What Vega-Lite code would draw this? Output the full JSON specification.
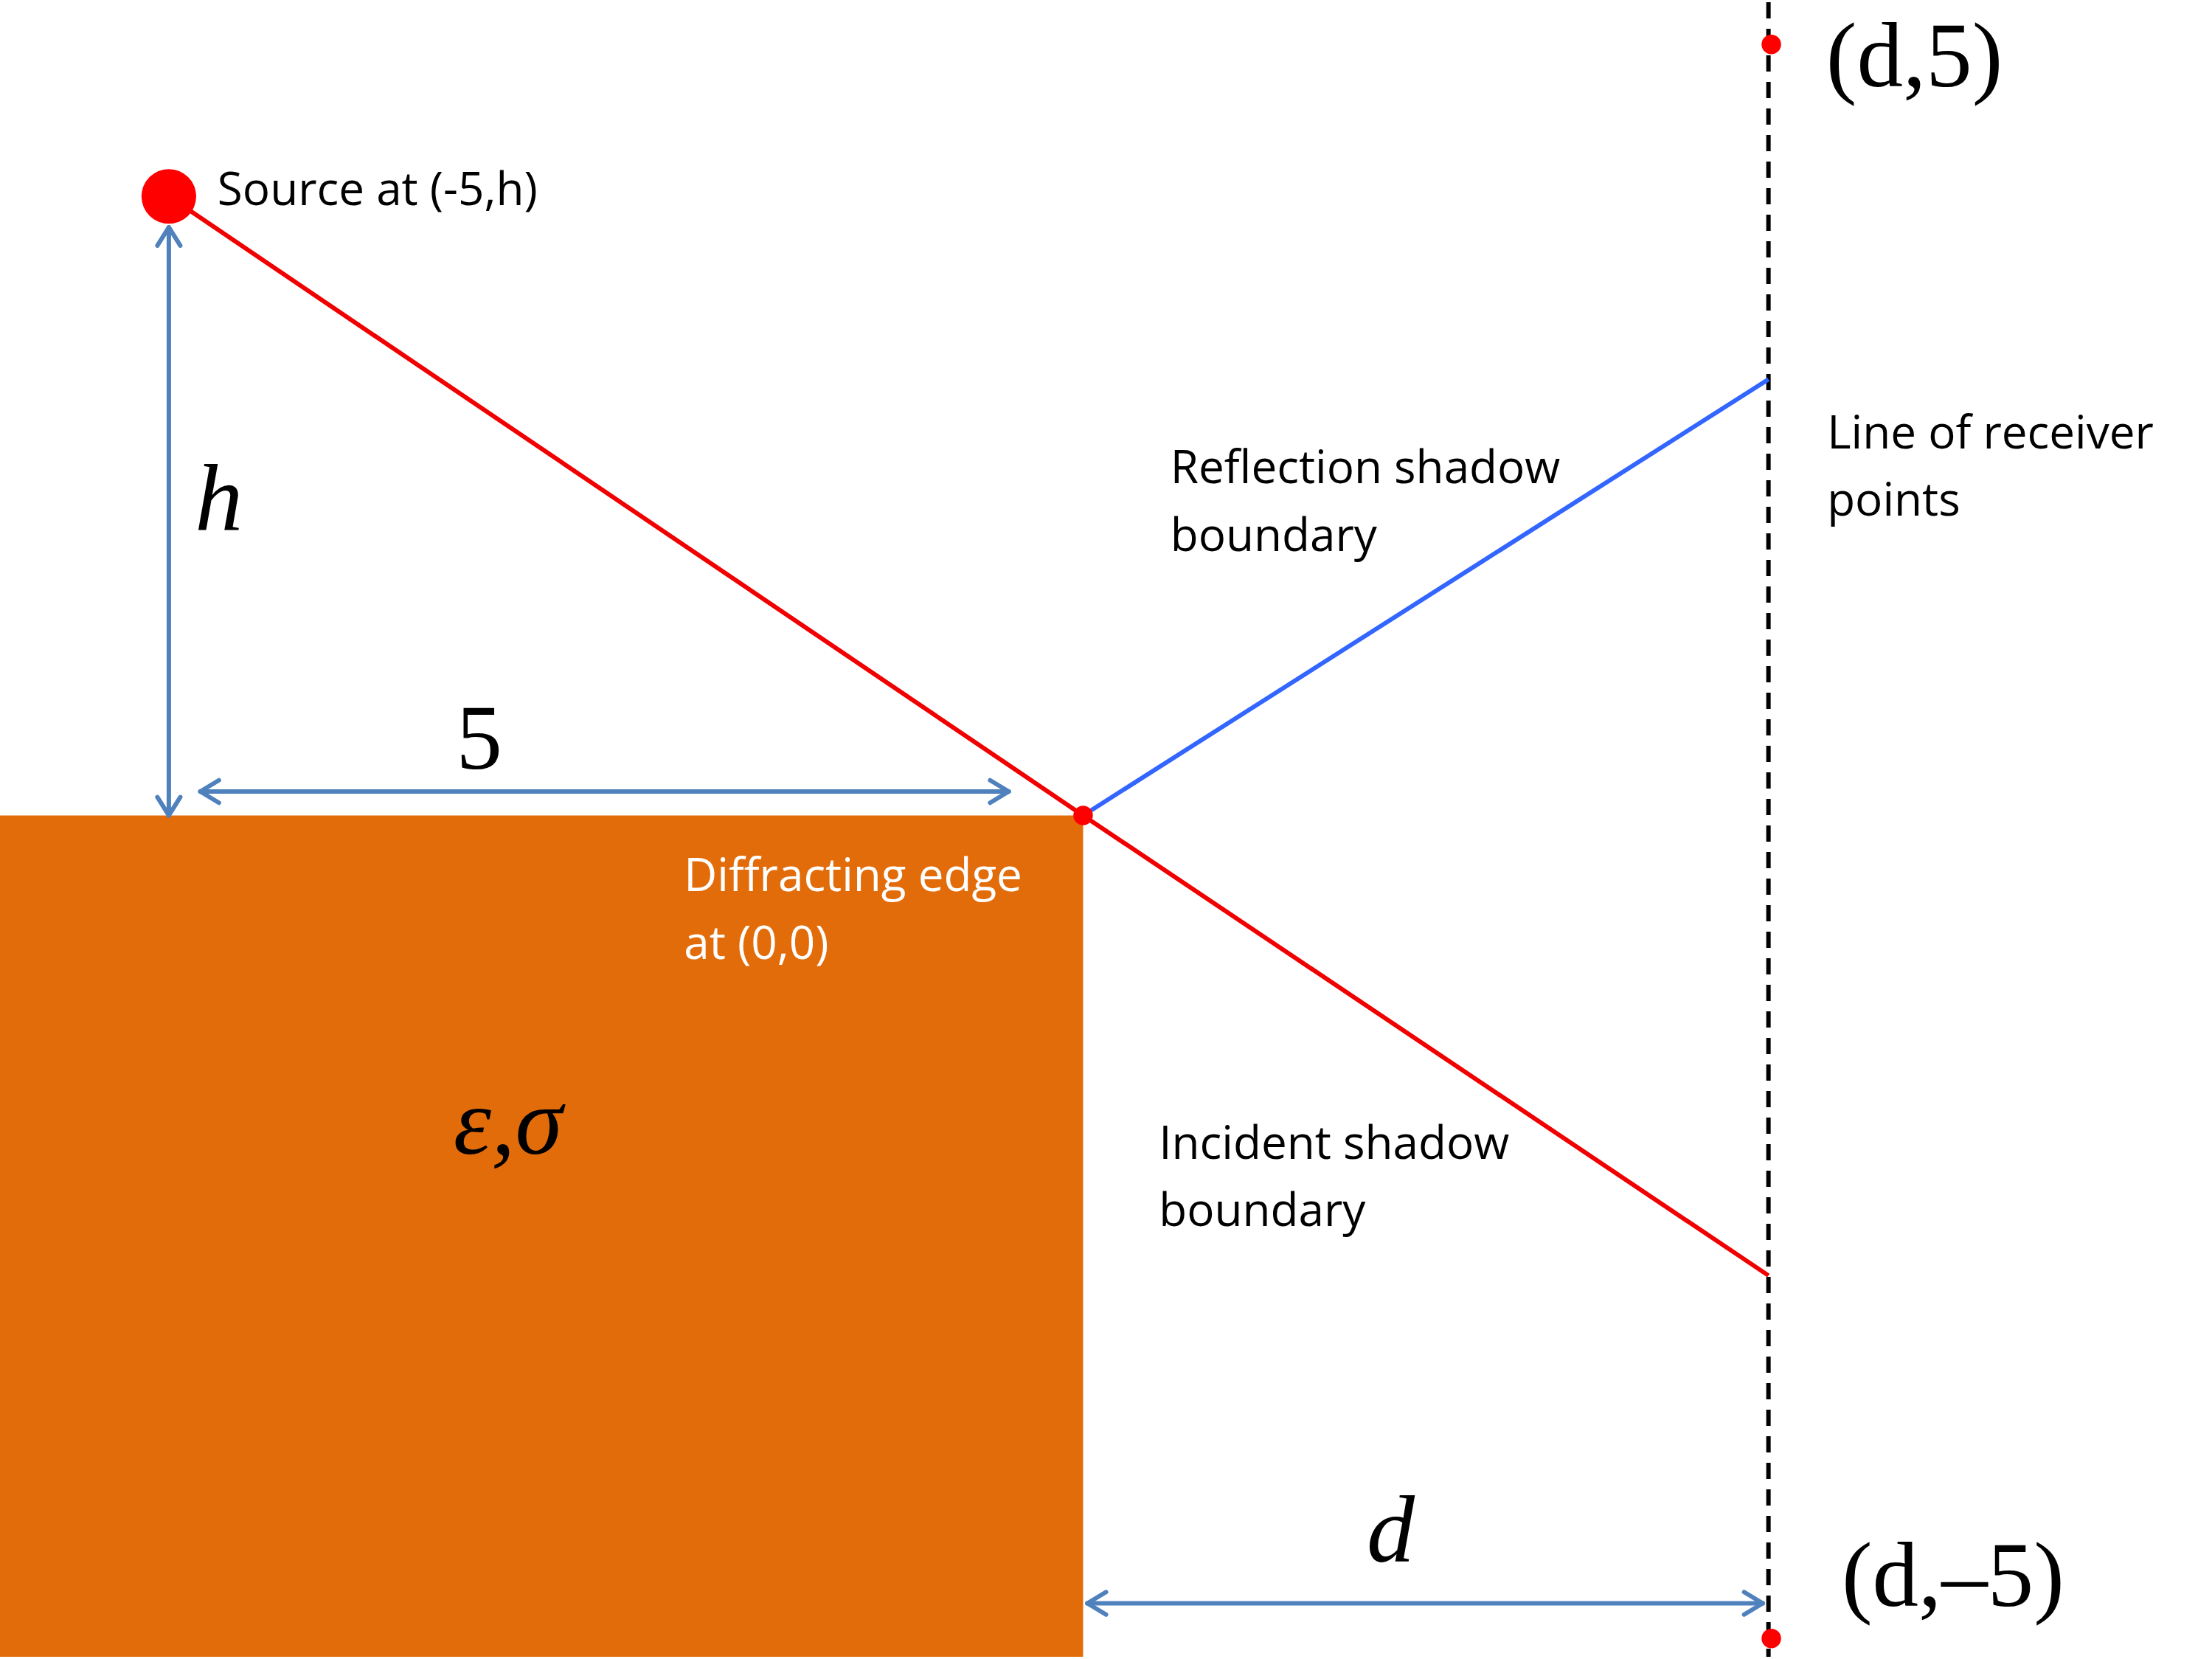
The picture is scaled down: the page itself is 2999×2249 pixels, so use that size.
{
  "$schema": "https://vega.github.io/schema/vega-lite/v6.json",
  "autosize": {"type": "fit", "contains": "padding"},
  "width": 2999,
  "height": 2249,
  "padding": 0,
  "background": "white",
  "config": {"view": {"stroke": null}},
  "datasets": {
    "block": [{"x": 0, "x2": 757, "y": 578, "y2": 1176}],
    "red": [
      {"x": 118, "y": 138, "x2": 757, "y2": 578},
      {"x": 757, "y": 578, "x2": 1236, "y2": 905}
    ],
    "blue": [{"x": 757, "y": 578, "x2": 1236, "y2": 268}],
    "dash": [{"x": 1236, "y": 0, "x2": 1236, "y2": 1176}],
    "arrows": [
      {"x": 118, "y": 160, "x2": 118, "y2": 578},
      {"x": 140, "y": 561, "x2": 705, "y2": 561},
      {"x": 760, "y": 1138, "x2": 1232, "y2": 1138},
      {"x": 118, "y": 160, "x2": 110, "y2": 173},
      {"x": 118, "y": 160, "x2": 126, "y2": 173},
      {"x": 118, "y": 578, "x2": 110, "y2": 565},
      {"x": 118, "y": 578, "x2": 126, "y2": 565},
      {"x": 140, "y": 561, "x2": 153, "y2": 553},
      {"x": 140, "y": 561, "x2": 153, "y2": 569},
      {"x": 705, "y": 561, "x2": 692, "y2": 553},
      {"x": 705, "y": 561, "x2": 692, "y2": 569},
      {"x": 760, "y": 1138, "x2": 773, "y2": 1130},
      {"x": 760, "y": 1138, "x2": 773, "y2": 1146},
      {"x": 1232, "y": 1138, "x2": 1219, "y2": 1130},
      {"x": 1232, "y": 1138, "x2": 1219, "y2": 1146}
    ],
    "bigdot": [{"x": 118, "y": 138}],
    "dots": [{"x": 757, "y": 578}, {"x": 1238, "y": 30}, {"x": 1238, "y": 1163}],
    "labels": [
      {"x": 152, "y": 134, "t": "Source at (-5,h)"},
      {"x": 818, "y": 332, "t": "Reflection shadow"},
      {"x": 818, "y": 380, "t": "boundary"},
      {"x": 1277, "y": 307, "t": "Line of receiver"},
      {"x": 1277, "y": 355, "t": "points"},
      {"x": 810, "y": 812, "t": "Incident shadow"},
      {"x": 810, "y": 860, "t": "boundary"}
    ],
    "white": [
      {"x": 478, "y": 622, "t": "Diffracting edge"},
      {"x": 478, "y": 670, "t": "at (0,0)"}
    ],
    "italic": [
      {"x": 153, "y": 355, "t": "h"},
      {"x": 355, "y": 798, "t": "ε,σ"},
      {"x": 972, "y": 1088, "t": "d"}
    ],
    "serif": [
      {"x": 335, "y": 525, "t": "5"},
      {"x": 1338, "y": 40, "t": "(d,5)"},
      {"x": 1365, "y": 1120, "t": "(d,–5)"}
    ]
  },
  "encoding": {
    "x": {"field": "x", "type": "quantitative", "axis": null, "scale": {"domain": [0, 1546], "nice": false, "zero": false}},
    "y": {"field": "y", "type": "quantitative", "axis": null, "scale": {"domain": [0, 1176], "nice": false, "zero": false, "reverse": true}}
  },
  "layer": [
    {"data": {"name": "block"}, "mark": {"type": "rect", "color": "#E36C0A"},
     "encoding": {"x2": {"field": "x2"}, "y2": {"field": "y2"}}},
    {"data": {"name": "dash"}, "mark": {"type": "rule", "color": "black", "strokeWidth": 6, "strokeDash": [22, 14]},
     "encoding": {"x2": {"field": "x2"}, "y2": {"field": "y2"}}},
    {"data": {"name": "arrows"}, "mark": {"type": "rule", "color": "#4F81BD", "strokeWidth": 6, "strokeCap": "round"},
     "encoding": {"x2": {"field": "x2"}, "y2": {"field": "y2"}}},
    {"data": {"name": "red"}, "mark": {"type": "rule", "color": "#F00000", "strokeWidth": 6},
     "encoding": {"x2": {"field": "x2"}, "y2": {"field": "y2"}}},
    {"data": {"name": "blue"}, "mark": {"type": "rule", "color": "#3366FF", "strokeWidth": 6},
     "encoding": {"x2": {"field": "x2"}, "y2": {"field": "y2"}}},
    {"data": {"name": "bigdot"}, "mark": {"type": "circle", "color": "#FF0000", "opacity": 1, "size": 5500}},
    {"data": {"name": "dots"}, "mark": {"type": "circle", "color": "#FF0000", "opacity": 1, "size": 700}},
    {"data": {"name": "labels"}, "mark": {"type": "text", "align": "left", "baseline": "middle", "font": "Open Sans", "fontSize": 62, "color": "black"},
     "encoding": {"text": {"field": "t"}}},
    {"data": {"name": "white"}, "mark": {"type": "text", "align": "left", "baseline": "middle", "font": "Open Sans", "fontSize": 62, "color": "white"},
     "encoding": {"text": {"field": "t"}}},
    {"data": {"name": "italic"}, "mark": {"type": "text", "align": "center", "baseline": "middle", "font": "Liberation Serif", "fontStyle": "italic", "fontSize": 130, "color": "black"},
     "encoding": {"text": {"field": "t"}}},
    {"data": {"name": "serif"}, "mark": {"type": "text", "align": "center", "baseline": "middle", "font": "Liberation Serif", "fontSize": 125, "color": "black"},
     "encoding": {"text": {"field": "t"}}}
  ]
}
